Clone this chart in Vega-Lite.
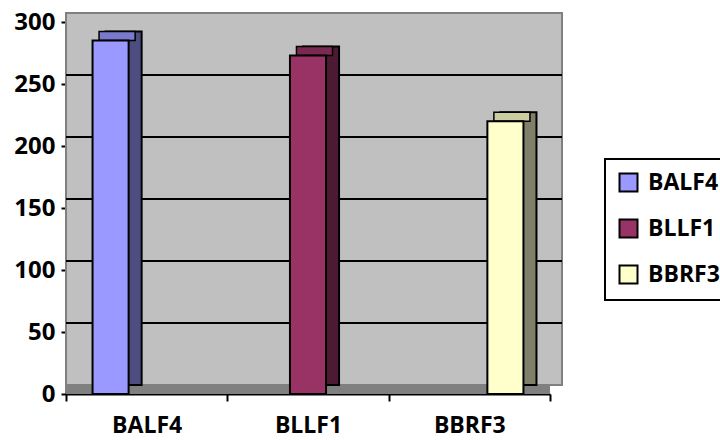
{
  "$schema": "https://vega.github.io/schema/vega-lite/v6.json",
  "width": 484,
  "height": 372,
  "autosize": "none",
  "padding": {"left": 66, "top": 22, "right": 170, "bottom": 46},
  "background": "white",
  "config": {
    "font": "Open Sans",
    "view": {"stroke": null},
    "legend": {
      "orient": "none",
      "legendX": 539,
      "legendY": 137,
      "strokeColor": "black",
      "strokeWidth": 2,
      "padding": 12,
      "labelFont": "Open Sans",
      "labelFontSize": 23,
      "labelFontWeight": "bold",
      "labelColor": "black",
      "symbolType": "square",
      "symbolSize": 324,
      "symbolStrokeColor": "black",
      "symbolStrokeWidth": 2,
      "rowPadding": 19,
      "labelOffset": 8
    }
  },
  "data": {
    "values": [
      {"gene": "BALF4", "series": "BALF4", "value": 285},
      {"gene": "BLLF1", "series": "BLLF1", "value": 273},
      {"gene": "BBRF3", "series": "BBRF3", "value": 220}
    ]
  },
  "resolve": {"scale": {"xOffset": "independent", "fill": "independent"}},
  "layer": [
    {
      "mark": {"type": "rect", "fill": "#C0C0C0"},
      "encoding": {
        "y": {"datum": 300, "type": "quantitative", "scale": {"domain": [0, 300], "nice": false}},
        "y2": {"datum": 0}
      }
    },
    {
      "mark": {"type": "rect", "fill": "#C0C0C0", "stroke": "#808080", "strokeWidth": 2, "xOffset": 12, "x2Offset": 12, "yOffset": -9, "y2Offset": -9},
      "encoding": {
        "y": {"datum": 300, "type": "quantitative"},
        "y2": {"datum": 0}
      }
    },
    {
      "mark": {"type": "rect", "fill": "#808080", "x2Offset": 12, "y2Offset": -9},
      "encoding": {
        "y": {"datum": 0, "type": "quantitative"},
        "y2": {"datum": 0}
      }
    },
    {
      "data": {"values": [{"v": 50}, {"v": 100}, {"v": 150}, {"v": 200}, {"v": 250}]},
      "mark": {"type": "rule", "color": "black", "strokeWidth": 2, "xOffset": 12, "x2Offset": 12, "yOffset": -9},
      "encoding": {
        "y": {"field": "v", "type": "quantitative"}
      }
    },
    {
      "mark": {"type": "bar", "stroke": "black", "strokeWidth": 2, "yOffset": -9, "y2Offset": -9},
      "encoding": {
        "x": {"field": "gene", "type": "nominal", "sort": ["BALF4", "BLLF1", "BBRF3"], "scale": {"paddingInner": 0, "paddingOuter": 0}},
        "xOffset": {"field": "series", "type": "nominal", "sort": ["BALF4", "BLLF1", "BBRF3"], "scale": {"domain": ["BALF4", "BLLF1", "BBRF3"], "paddingInner": 0, "paddingOuter": 0.736, "align": 0.745}},
        "y": {"field": "value", "type": "quantitative"},
        "y2": {"datum": 0},
        "fill": {"field": "series", "type": "nominal", "legend": null, "scale": {"domain": ["BALF4", "BLLF1", "BBRF3"], "range": ["#4D4D80", "#4D1A33", "#80806A"]}}
      }
    },
    {
      "mark": {"type": "bar", "stroke": "black", "strokeWidth": 1.5, "yOffset": -9},
      "encoding": {
        "x": {"field": "gene", "type": "nominal", "sort": ["BALF4", "BLLF1", "BBRF3"]},
        "xOffset": {"field": "series", "type": "nominal", "scale": {"domain": ["BALF4", "BLLF1", "BBRF3"], "paddingInner": 0, "paddingOuter": 0.736, "align": 0.6225}},
        "y": {"field": "value", "type": "quantitative"},
        "y2": {"field": "value"},
        "fill": {"field": "series", "type": "nominal", "legend": null, "scale": {"domain": ["BALF4", "BLLF1", "BBRF3"], "range": ["#7A7ACC", "#7A2952", "#CCCCA3"]}}
      }
    },
    {
      "mark": {"type": "bar", "stroke": "black", "strokeWidth": 2},
      "encoding": {
        "x": {
          "field": "gene", "type": "nominal", "sort": ["BALF4", "BLLF1", "BBRF3"],
          "axis": {
            "title": null, "labelAngle": 0, "labelAlign": "center", "labelFont": "Open Sans", "labelFontSize": 23, "labelFontWeight": "bold", "labelColor": "black",
            "domainColor": "black", "domainWidth": 2, "tickColor": "black", "tickWidth": 2, "tickSize": 7, "tickBand": "extent", "labelPadding": 24
          }
        },
        "xOffset": {"field": "series", "type": "nominal", "scale": {"domain": ["BALF4", "BLLF1", "BBRF3"], "paddingInner": 0, "paddingOuter": 0.736, "align": 0.5}},
        "y": {
          "field": "value", "type": "quantitative",
          "axis": {
            "title": null, "values": [0, 50, 100, 150, 200, 250, 300], "grid": false,
            "labelFont": "Open Sans", "labelFontSize": 24, "labelFontWeight": "bold", "labelColor": "black",
            "domainColor": "black", "domainWidth": 2, "tickColor": "black", "tickWidth": 2, "tickSize": 5, "labelPadding": 6
          }
        },
        "y2": {"datum": 0},
        "fill": {
          "field": "series", "type": "nominal", "title": null,
          "scale": {"domain": ["BALF4", "BLLF1", "BBRF3"], "range": ["#9999FF", "#993366", "#FFFFCC"]}
        }
      }
    }
  ]
}
